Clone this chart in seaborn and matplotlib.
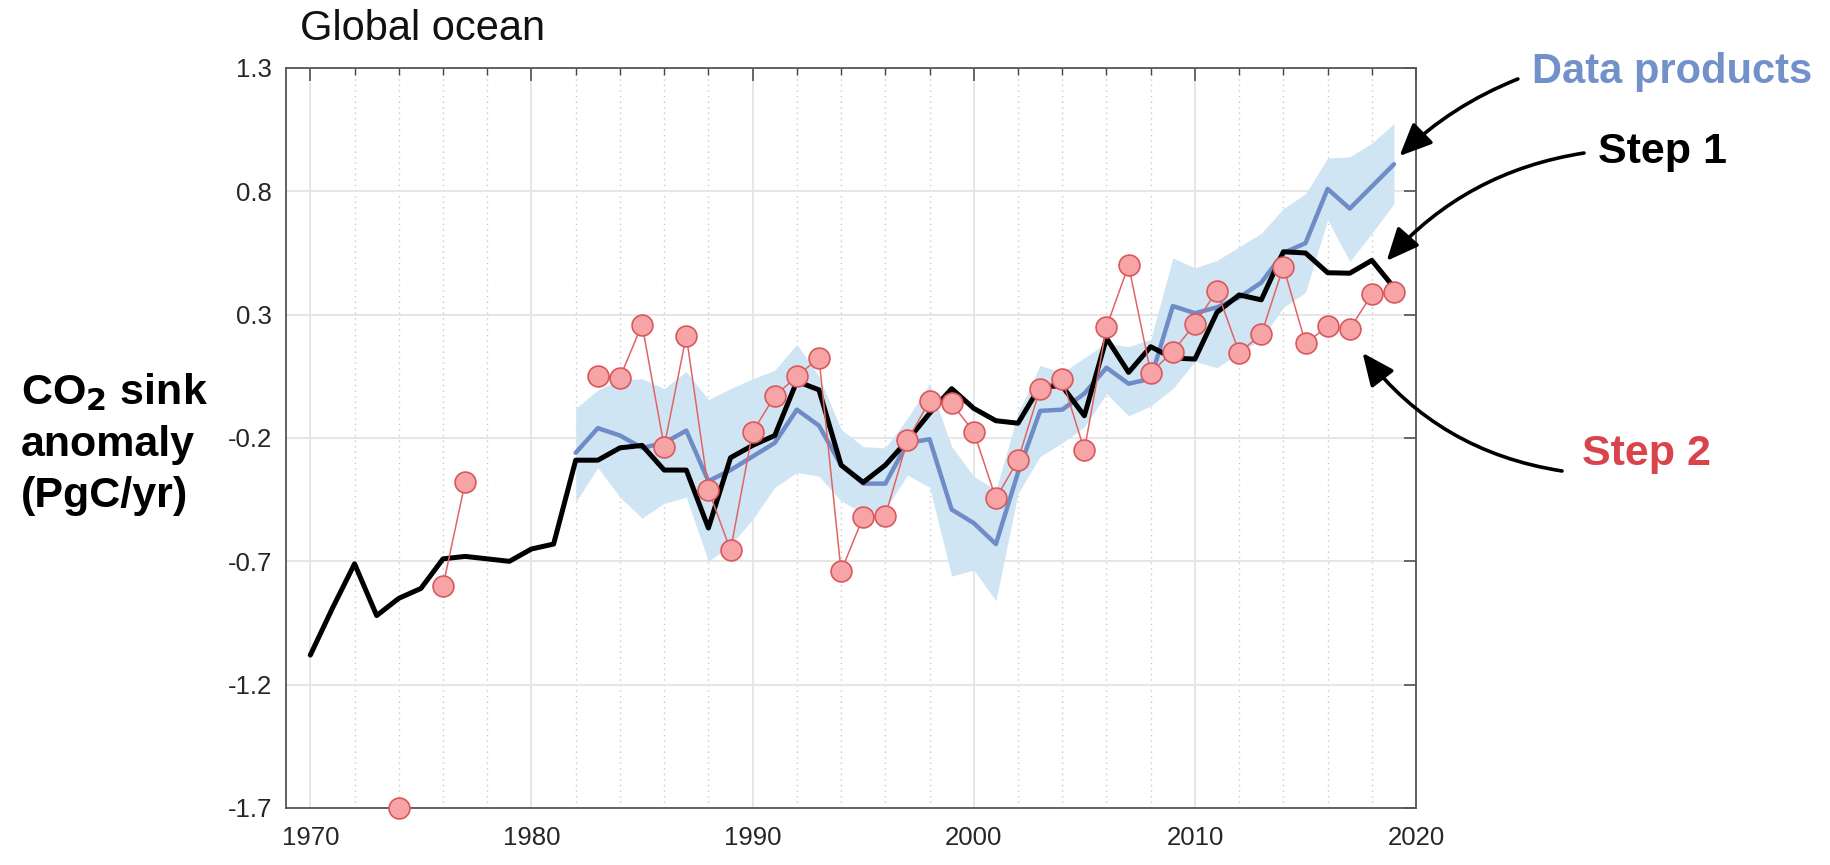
import numpy as np
import pandas as pd
import matplotlib
matplotlib.use("Agg")
import matplotlib.pyplot as plt
from matplotlib.ticker import MultipleLocator
import seaborn as sns

# yillar
years = list(range(1970, 2020))

# Step 1 (siyah cizgi)
step1 = [-1.08, -0.89, -0.71, -0.92, -0.85, -0.81, -0.69, -0.68, -0.69, -0.70,
         -0.65, -0.63, -0.29, -0.29, -0.24, -0.23, -0.33, -0.33, -0.565, -0.28,
         -0.23, -0.19, 0.03, -0.005, -0.31, -0.38, -0.31, -0.21, -0.10, 0.00,
         -0.08, -0.13, -0.14, 0.01, 0.01, -0.11, 0.205, 0.066, 0.17, 0.124,
         0.12, 0.31, 0.38, 0.36, 0.555, 0.55, 0.47, 0.468, 0.52, 0.41]

# Data products (mavi cizgi + bant), 1982-2019
dp_years = list(range(1982, 2020))
dp_mean = [-0.26, -0.16, -0.19, -0.24, -0.22, -0.17, -0.375, -0.33, -0.275, -0.22,
           -0.085, -0.15, -0.31, -0.385, -0.385, -0.22, -0.205, -0.49, -0.545, -0.63,
           -0.34, -0.09, -0.085, -0.02, 0.085, 0.02, 0.04, 0.335, 0.306, 0.33,
           0.37, 0.43, 0.55, 0.59, 0.81, 0.73, 0.82, 0.91]
dp_upper = [-0.08, -0.005, 0.035, 0.04, 0.00, 0.07, -0.045, 0.00, 0.04, 0.075,
            0.18, 0.05, -0.165, -0.235, -0.24, -0.12, 0.02, -0.235, -0.355, -0.41,
            -0.10, 0.095, 0.065, 0.125, 0.185, 0.17, 0.20, 0.53, 0.49, 0.52,
            0.575, 0.63, 0.73, 0.79, 0.935, 0.94, 0.995, 1.075]
dp_lower = [-0.46, -0.32, -0.44, -0.525, -0.465, -0.44, -0.70, -0.635, -0.53, -0.40,
            -0.34, -0.355, -0.455, -0.505, -0.49, -0.35, -0.40, -0.76, -0.735, -0.86,
            -0.425, -0.275, -0.22, -0.155, -0.02, -0.11, -0.07, 0.0, 0.11, 0.085,
            0.145, 0.20, 0.33, 0.39, 0.685, 0.515, 0.63, 0.75]

# Step 2 (kirmizi noktalar), parca parca
step2_years = [1974, 1976, 1977] + list(range(1983, 2020))
step2 = [-1.70, -0.80, -0.38,
         0.05, 0.045, 0.26, -0.235, 0.215, -0.41, -0.655, -0.175, -0.03, 0.05,
         0.125, -0.74, -0.52, -0.515, -0.21, -0.05, -0.06, -0.175, -0.445, -0.29,
         0.0, 0.04, -0.25, 0.25, 0.50, 0.065, 0.15, 0.263, 0.397, 0.146,
         0.22, 0.495, 0.184, 0.252, 0.241, 0.383, 0.391]
step2_seg = [0, 1, 1] + [2] * 37

y_ticks = [-1.7, -1.2, -0.7, -0.2, 0.3, 0.8, 1.3]
x_ticks = [1970, 1980, 1990, 2000, 2010, 2020]

df1 = pd.DataFrame({"yil": years, "deger": step1})
df_dp = pd.DataFrame({"yil": dp_years, "ort": dp_mean, "ust": dp_upper, "alt": dp_lower})
df2 = pd.DataFrame({"yil": step2_years, "deger": step2, "seg": step2_seg})

sns.set_style("white")
plt.rcParams["font.family"] = ["Liberation Sans", "DejaVu Sans"]

fig = plt.figure(figsize=(18.31, 8.65), dpi=100)
ax = fig.add_axes([0.1562, 0.0659, 0.6172, 0.8555])

ax.fill_between(df_dp["yil"], df_dp["alt"], df_dp["ust"], color="#d0e5f4", lw=0, zorder=1)
sns.lineplot(data=df_dp, x="yil", y="ort", color="#6f8cc6", lw=3.2, ax=ax, zorder=2)
sns.lineplot(data=df1, x="yil", y="deger", color="black", lw=3.6, ax=ax, zorder=3)
sns.lineplot(data=df2, x="yil", y="deger", units="seg", estimator=None, color="#e06464",
             lw=1.1, marker="o", markersize=15, markerfacecolor="#f6a4a6",
             markeredgecolor="#d8585c", markeredgewidth=1.2, ax=ax, zorder=4, clip_on=False)

ax.set_xlim(1968.9, 2020)
ax.set_ylim(-1.7, 1.3)
ax.set_xticks(x_ticks)
ax.set_yticks(y_ticks)
ax.set_yticklabels([f"{v:.1f}" for v in y_ticks])
ax.xaxis.set_minor_locator(MultipleLocator(2))
ax.set_xlabel("")
ax.set_ylabel("")

ax.grid(which="major", axis="both", color="#e4e4e4", lw=1.3, ls="-", zorder=0)
ax.grid(which="minor", axis="x", color="#c8c8c8", lw=1.0, ls=(0, (1, 3)), zorder=0)
ax.set_axisbelow(True)

ax.tick_params(which="both", direction="in", top=True, right=True, color="#444444",
               labelsize=18.5, labelcolor="#262626")
ax.tick_params(axis="x", which="both", pad=13)
ax.tick_params(axis="y", which="both", pad=10)
ax.tick_params(which="major", length=9, width=1.1)
ax.tick_params(which="minor", length=5, width=1.0)
for s in ax.spines.values():
    s.set_color("#555555")
    s.set_linewidth(1.3)

# basliklar
fig.text(0.1638, 0.9665, "Global ocean", fontsize=30, va="center", ha="left", color="#111111")
fig.text(0.0115, 0.487, "CO$_\\mathbf{2}$ sink\nanomaly\n(PgC/yr)", fontsize=31,
         fontweight="bold", va="center", ha="left", linespacing=1.38, color="black")

# etiketler ve oklar
fig.text(0.8367, 0.9168, "Data products", fontsize=30, fontweight="bold", color="#7391c9",
         va="center", ha="left")
fig.text(0.8727, 0.8243, "Step 1", fontsize=31, fontweight="bold", color="black",
         va="center", ha="left")
fig.text(0.864, 0.4750, "Step 2", fontsize=31, fontweight="bold", color="#d9434b",
         va="center", ha="left")

ok = dict(arrowstyle="-|>,head_length=0.9,head_width=0.4", color="black", lw=2.6,
          mutation_scale=22, shrinkA=0, shrinkB=0)
ax.annotate("", xy=(2019.25, 0.943), xycoords="data", xytext=(0.829, 0.9087),
            textcoords="figure fraction", arrowprops=dict(ok, connectionstyle="arc3,rad=0.1"),
            annotation_clip=False)
ax.annotate("", xy=(2018.67, 0.518), xycoords="data", xytext=(0.8651, 0.8231),
            textcoords="figure fraction", arrowprops=dict(ok, connectionstyle="arc3,rad=0.18"),
            annotation_clip=False)
ax.annotate("", xy=(2017.58, 0.145), xycoords="data", xytext=(0.8531, 0.4555),
            textcoords="figure fraction", arrowprops=dict(ok, connectionstyle="arc3,rad=-0.2"),
            annotation_clip=False)

fig.savefig("out.png", dpi=100)
